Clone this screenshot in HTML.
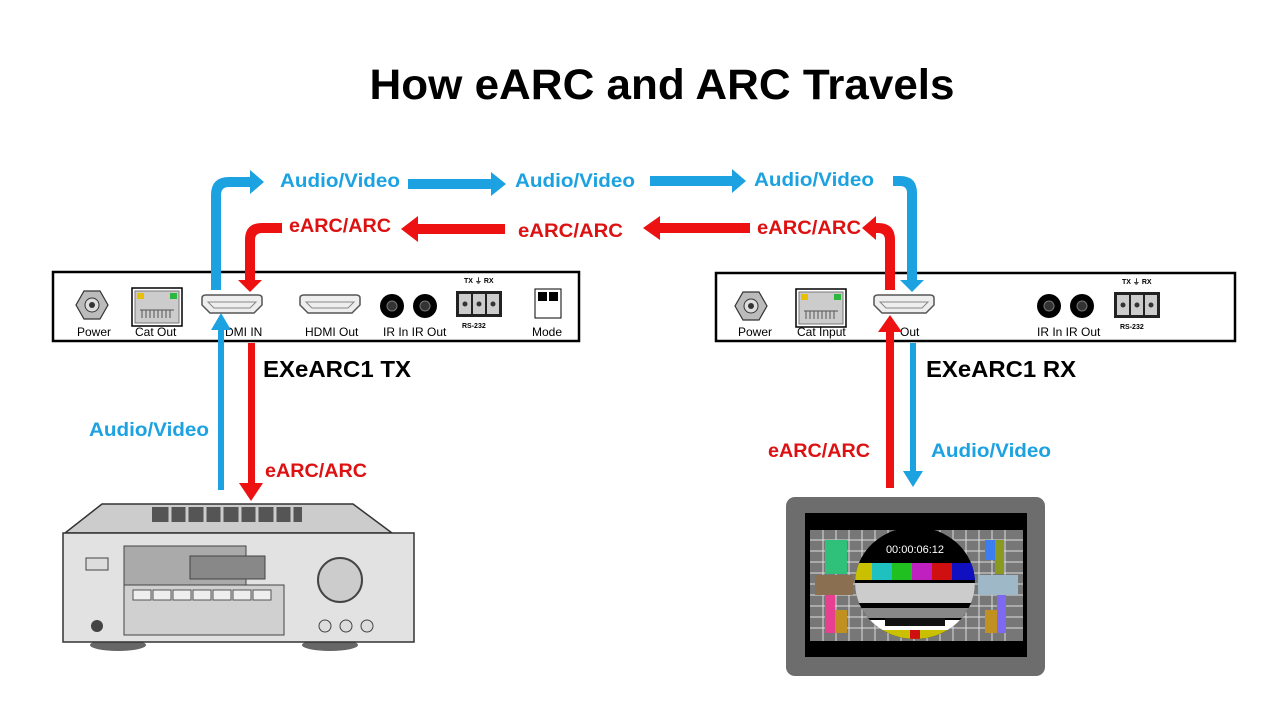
<!DOCTYPE html>
<html><head><meta charset="utf-8"><style>
html,body{margin:0;padding:0;background:#fff;width:1280px;height:720px;overflow:hidden}
svg text{font-family:"Liberation Sans","DejaVu Sans",sans-serif}
</style></head><body>
<svg width="1280" height="720" viewBox="0 0 1280 720" xmlns="http://www.w3.org/2000/svg">
<defs>
<g id="hdmi"><path d="M0,3 Q0,0 4,0 H56 Q60,0 60,3 V10 L52,18 H8 L0,10 Z" fill="#eee" stroke="#555" stroke-width="1.5"/><path d="M6,7 H54 L48,13 H12 Z" fill="none" stroke="#888" stroke-width="1"/></g>
<g id="pwr"><polygon points="-8,-14 8,-14 16,0 8,14 -8,14 -16,0" fill="#bbb" stroke="#333" stroke-width="1.2"/><circle r="7" fill="#ddd" stroke="#333"/><circle r="3" fill="#333"/></g>
<g id="cat"><rect x="0" y="0" width="50" height="38" fill="#fff" stroke="#000" stroke-width="1.5"/><rect x="3" y="3" width="44" height="32" fill="#ccc" stroke="#777"/><rect x="5" y="5" width="7" height="6" fill="#e8c000"/><rect x="38" y="5" width="7" height="6" fill="#2db83d"/><path d="M8,22 H42 M10,22 V30 M14,22 V30 M18,22 V30 M22,22 V30 M26,22 V30 M30,22 V30 M34,22 V30 M38,22 V30" stroke="#555"/></g>
<g id="ir"><circle cx="0" cy="0" r="12" fill="#000"/><circle r="5" fill="#333" stroke="#777"/></g>
<g id="rs"><text x="8" y="-8" font-size="7" font-weight="bold">TX ⏚ RX</text><rect x="0" y="0" width="46" height="26" fill="#222"/><rect x="3" y="3" width="12" height="20" fill="#ccc"/><rect x="17" y="3" width="12" height="20" fill="#ccc"/><rect x="31" y="3" width="12" height="20" fill="#ccc"/><circle cx="9" cy="13" r="2.5" fill="#333"/><circle cx="23" cy="13" r="2.5" fill="#333"/><circle cx="37" cy="13" r="2.5" fill="#333"/><text x="6" y="37" font-size="7" font-weight="bold">RS-232</text></g>
</defs>

<text x="662" y="99" font-size="43" font-weight="bold" text-anchor="middle" textLength="585" lengthAdjust="spacingAndGlyphs">How eARC and ARC Travels</text>

<!-- TX box -->
<rect x="53" y="272" width="526" height="69" fill="#fff" stroke="#000" stroke-width="2.5"/>
<use href="#pwr" x="92" y="305"/>
<use href="#cat" x="132" y="288"/>
<use href="#hdmi" x="202" y="295"/>
<use href="#hdmi" x="300" y="295"/>
<use href="#ir" x="392" y="306"/>
<use href="#ir" x="425" y="306"/>
<use href="#rs" x="456" y="291"/>
<rect x="535" y="289" width="26" height="29" fill="#fff" stroke="#000"/><rect x="538" y="292" width="9" height="9" fill="#000"/><rect x="549" y="292" width="9" height="9" fill="#000"/>
<g font-size="12" fill="#000">
<text x="77" y="336">Power</text><text x="135" y="336">Cat Out</text><text x="225" y="336">DMI IN</text><text x="305" y="336">HDMI Out</text><text x="383" y="336">IR In  IR Out</text><text x="532" y="336">Mode</text>
</g>

<!-- RX box -->
<rect x="716" y="273" width="519" height="68" fill="#fff" stroke="#000" stroke-width="2.5"/>
<use href="#pwr" x="751" y="306"/>
<use href="#cat" x="796" y="289"/>
<use href="#hdmi" x="874" y="295"/>
<use href="#ir" x="1049" y="306"/>
<use href="#ir" x="1082" y="306"/>
<use href="#rs" x="1114" y="292"/>
<g font-size="12" fill="#000">
<text x="738" y="336">Power</text><text x="797" y="336">Cat Input</text><text x="900" y="336">Out</text><text x="1037" y="336">IR In  IR Out</text>
</g>

<text x="263" y="377" font-size="23" font-weight="bold" textLength="148" lengthAdjust="spacingAndGlyphs">EXeARC1 TX</text>
<text x="926" y="377" font-size="23" font-weight="bold" textLength="150" lengthAdjust="spacingAndGlyphs">EXeARC1 RX</text>

<!-- blue top arrows -->
<g fill="#1ca2e0">
<path d="M211,290 V195 Q211,177 229,177 H250 V170 L264,182 L250,194 V187 H229 Q221,187 221,195 V290 Z"/>
<path d="M408,179 H491 V172 L506,184 L491,196 V189 H408 Z"/>
<path d="M650,176 H732 V169 L746,181 L732,193 V186 H650 Z"/>
<path d="M893,176 H900 Q917,176 917,193 V280 H924 L912,292 L900,280 H907 V193 Q907,186 900,186 H893 Z"/>
</g>
<!-- red top arrows -->
<g fill="#ee1111">
<path d="M282,223 H262 Q245,223 245,240 V280 H238 L250,292 L262,280 H255 V240 Q255,233 262,233 H282 Z"/>
<path d="M505,224 H418 V216 L401,229 L418,242 V234 H505 Z"/>
<path d="M750,223 H660 V216 L643,228 L660,240 V233 H750 Z"/>
<path d="M895,290 V240 Q895,223 878,223 H876 V216 L862,228 L876,240 V233 H878 Q885,233 885,240 V290 Z"/>
</g>

<!-- vertical lines -->
<rect x="218" y="328" width="6" height="162" fill="#1ca2e0"/>
<polygon points="211,330 221,313 231,330" fill="#1ca2e0"/>
<rect x="248" y="343" width="7" height="142" fill="#ee1111"/>
<polygon points="239,483 251,501 263,483" fill="#ee1111"/>
<rect x="886" y="330" width="8" height="158" fill="#ee1111"/>
<polygon points="878,332 890,315 902,332" fill="#ee1111"/>
<rect x="910" y="343" width="6" height="130" fill="#1ca2e0"/>
<polygon points="903,471 913,487 923,471" fill="#1ca2e0"/>

<g font-size="19" font-weight="bold">
<text x="280" y="187" fill="#1ca2e0" textLength="120" lengthAdjust="spacingAndGlyphs">Audio/Video</text>
<text x="515" y="187" fill="#1ca2e0" textLength="120" lengthAdjust="spacingAndGlyphs">Audio/Video</text>
<text x="754" y="186" fill="#1ca2e0" textLength="120" lengthAdjust="spacingAndGlyphs">Audio/Video</text>
<text x="289" y="232" fill="#dd1111" textLength="102" lengthAdjust="spacingAndGlyphs">eARC/ARC</text>
<text x="518" y="237" fill="#dd1111" textLength="105" lengthAdjust="spacingAndGlyphs">eARC/ARC</text>
<text x="757" y="234" fill="#dd1111" textLength="104" lengthAdjust="spacingAndGlyphs">eARC/ARC</text>
<text x="89" y="436" fill="#1ca2e0" textLength="120" lengthAdjust="spacingAndGlyphs">Audio/Video</text>
<text x="265" y="477" fill="#dd1111" textLength="102" lengthAdjust="spacingAndGlyphs">eARC/ARC</text>
<text x="768" y="457" fill="#dd1111" textLength="102" lengthAdjust="spacingAndGlyphs">eARC/ARC</text>
<text x="931" y="457" fill="#1ca2e0" textLength="120" lengthAdjust="spacingAndGlyphs">Audio/Video</text>
</g>

<!-- receiver -->
<ellipse cx="118" cy="645" rx="28" ry="6" fill="#666"/>
<ellipse cx="330" cy="645" rx="28" ry="6" fill="#666"/>
<polygon points="102,504 353,504 392,533 65,533" fill="#ccc" stroke="#333" stroke-width="1.5"/>
<g fill="#555"><rect x="152" y="507" width="150" height="15"/></g>
<g stroke="#ccc" stroke-width="3"><path d="M170,507V522M187,507V522M205,507V522M222,507V522M240,507V522M257,507V522M275,507V522M292,507V522"/></g>
<rect x="63" y="533" width="351" height="109" fill="#e2e2e2" stroke="#333" stroke-width="1.5"/>
<rect x="124" y="546" width="122" height="47" fill="#aaa" stroke="#444"/>
<rect x="190" y="556" width="75" height="23" fill="#888" stroke="#444"/>
<rect x="124" y="585" width="160" height="50" fill="#d0d0d0" stroke="#444"/>
<g fill="#eee" stroke="#555"><rect x="133" y="590" width="18" height="10"/><rect x="153" y="590" width="18" height="10"/><rect x="173" y="590" width="18" height="10"/><rect x="193" y="590" width="18" height="10"/><rect x="213" y="590" width="18" height="10"/><rect x="233" y="590" width="18" height="10"/><rect x="253" y="590" width="18" height="10"/></g>
<rect x="86" y="558" width="22" height="12" fill="#ddd" stroke="#444"/>
<circle cx="97" cy="626" r="6" fill="#444"/>
<circle cx="340" cy="580" r="22" fill="#ccc" stroke="#444" stroke-width="2"/>
<circle cx="325" cy="626" r="6" fill="#ddd" stroke="#444"/><circle cx="346" cy="626" r="6" fill="#ddd" stroke="#444"/><circle cx="367" cy="626" r="6" fill="#ddd" stroke="#444"/>

<!-- TV -->
<rect x="786" y="497" width="259" height="179" rx="9" fill="#6d6d6d"/>
<rect x="805" y="513" width="222" height="144" fill="#000"/>
<rect x="810" y="530" width="213" height="111" fill="#777"/>
<g stroke="#ddd" stroke-width="1">
<path d="M810,540H1023M810,551H1023M810,562H1023M810,573H1023M810,584H1023M810,595H1023M810,606H1023M810,617H1023M810,628H1023"/>
<path d="M823,530V641M836,530V641M849,530V641M862,530V641M875,530V641M888,530V641M901,530V641M914,530V641M927,530V641M940,530V641M953,530V641M966,530V641M979,530V641M992,530V641M1005,530V641"/>
</g>
<rect x="825" y="540" width="22" height="34" fill="#2fc07a"/>
<rect x="985" y="540" width="10" height="20" fill="#3a7ef0"/><rect x="995" y="540" width="9" height="34" fill="#8a9a20"/>
<rect x="825" y="595" width="10" height="38" fill="#e84090"/><rect x="835" y="610" width="12" height="23" fill="#c09020"/>
<rect x="985" y="610" width="12" height="23" fill="#c09020"/><rect x="997" y="595" width="9" height="38" fill="#7d6af0"/>
<rect x="815" y="575" width="38" height="20" fill="#8a7050"/><rect x="978" y="575" width="40" height="20" fill="#9fb8c8"/>
<clipPath id="cc"><ellipse cx="915" cy="583" rx="60" ry="56"/></clipPath>
<g clip-path="url(#cc)">
<rect x="850" y="525" width="130" height="120" fill="#000"/>
<rect x="850" y="563" width="22" height="17" fill="#c8c000"/><rect x="872" y="563" width="20" height="17" fill="#1fc0c0"/><rect x="892" y="563" width="20" height="17" fill="#20c020"/><rect x="912" y="563" width="20" height="17" fill="#c020c0"/><rect x="932" y="563" width="20" height="17" fill="#d01010"/><rect x="952" y="563" width="28" height="17" fill="#1010c0"/>
<rect x="850" y="583" width="130" height="20" fill="#ccc"/>
<rect x="855" y="608" width="125" height="10" fill="#888"/>
<rect x="850" y="620" width="130" height="10" fill="#fff"/>
<rect x="850" y="630" width="130" height="15" fill="#c8c000"/>
<rect x="910" y="630" width="10" height="15" fill="#d01010"/>
</g>
<text x="915" y="553" font-size="11" fill="#fff" text-anchor="middle">00:00:06:12</text>
<rect x="885" y="618" width="60" height="8" fill="#111"/>
</svg>
</body></html>
